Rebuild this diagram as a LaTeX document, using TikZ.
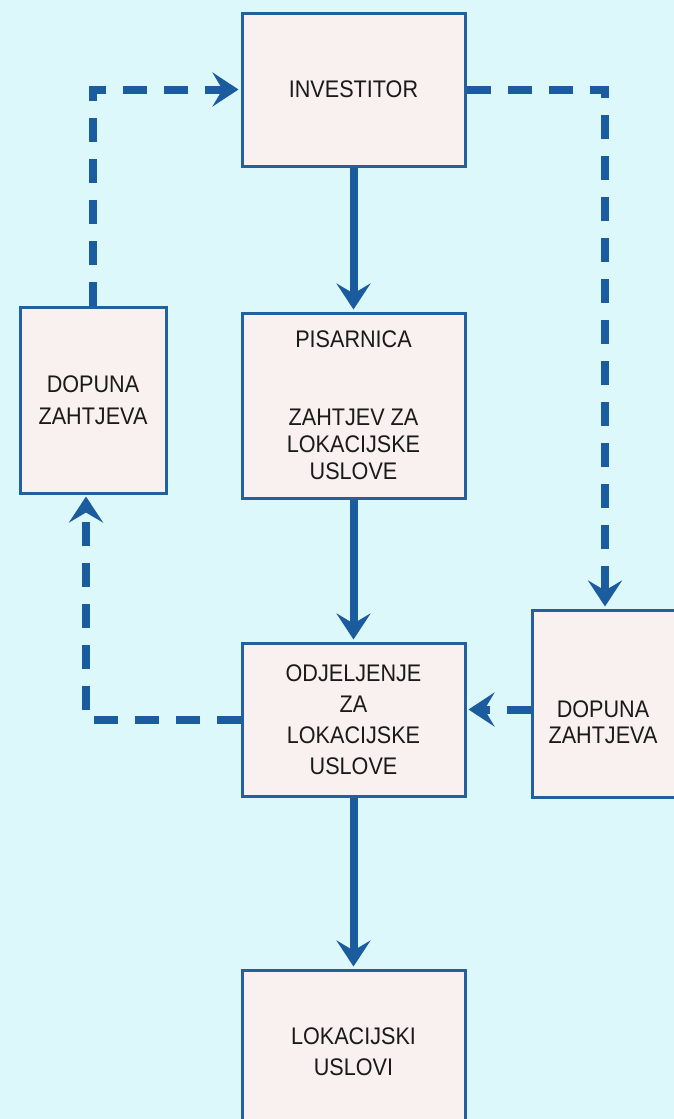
\documentclass[tikz,border=0pt]{standalone}
\usepackage{fontspec}
\setmainfont[FakeStretch=0.9]{Liberation Sans}
\usetikzlibrary{arrows.meta}
\definecolor{bg}{HTML}{DDF8FB}
\definecolor{boxfill}{HTML}{F8F1EF}
\definecolor{bd}{HTML}{24609E}
\definecolor{arr}{HTML}{1A5C9E}
\definecolor{txt}{HTML}{1A1A1A}
\tikzset{
  box/.style={draw=bd, line width=3pt, fill=boxfill, inner sep=0pt, align=center,
    text=txt, font=\fontsize{24}{31}\selectfont},
  lbl/.style={inner sep=0pt, align=center, text=txt, font=\fontsize{24}{31}\selectfont},
  tip/.style={-{Stealth[length=26pt,width=34pt,inset=10pt]}},
  solidarrow/.style={tip, draw=arr, line width=8pt, shorten >=2pt},
  dasharrow/.style={tip, draw=arr, line width=8pt, line join=miter,
    dash pattern=on 24pt off 17pt, shorten >=2pt}
}
\begin{document}
\begin{tikzpicture}[x=1pt,y=-1pt]
\useasboundingbox (0,0) rectangle (674,1119);
\clip (0,0) rectangle (674,1119);
\fill[bg] (0,0) rectangle (674,1119);

\node[box, minimum width=223pt, minimum height=153pt] (inv) at (353.5,89.5) {INVESTITOR};
\node[box, minimum width=223pt, minimum height=185pt] (pis) at (353.5,405.5)
  {PISARNICA\\[47pt]ZAHTJEV ZA\\[-4pt]LOKACIJSKE\\[-4pt]USLOVE};
\node[box, minimum width=146pt, minimum height=186pt] (dl) at (93,400)
  {DOPUNA\\[1pt]ZAHTJEVA};
\node[box, minimum width=223pt, minimum height=153pt] (odj) at (353.5,719.5)
  {ODJELJENJE\\ZA\\LOKACIJSKE\\USLOVE};
\node[box, minimum width=146pt, minimum height=187pt] (dr) at (605,703.5) {};
\node[lbl] (drt) at (603,722) {DOPUNA\\[-5pt]ZAHTJEVA};
\node[box, minimum width=223pt, minimum height=164pt] (lok) at (353.5,1052)
  {LOKACIJSKI\\USLOVI};

\coordinate (cl) at (86,719.5);

\draw[solidarrow] (inv.south) -- (pis.north);
\draw[solidarrow] (pis.south) -- (odj.north);
\draw[solidarrow] (odj.south) -- (lok.north);

\draw[dasharrow] (dl.north) -- (dl.north |- inv.west) -- (inv.west);
\draw[dasharrow] (inv.east) -- (inv.east -| dr.north) -- (dr.north);
\draw[dasharrow] (odj.west) -- (cl) -- (cl |- dl.south);
\draw[dasharrow] ([yshift=-6pt]dr.west) -- ([yshift=-6pt]dr.west -| odj.east);
\end{tikzpicture}
\end{document}
